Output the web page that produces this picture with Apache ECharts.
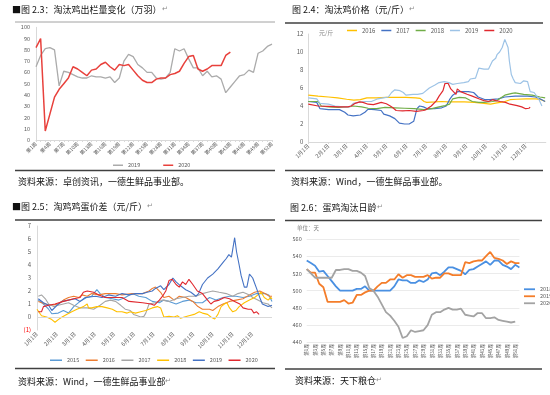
<!DOCTYPE html>
<html><head><meta charset="utf-8">
<script src="https://cdn.jsdelivr.net/npm/echarts@6/dist/echarts.min.js"></script>
<style>html,body{margin:0;padding:0;background:#fff}#c{width:550px;height:395px}</style>
</head><body><div id="c"></div>
<script>
// ---------- Panel 1: 淘汰鸡出栏量变化（万羽） ----------
const p1Weeks = Array.from({length: 52}, (_, i) => '第' + (i + 1) + '周');
const p1Out2019 = [65,75,81,82,80,48,61,60,58,56,55,55,57,56,56,55,56,51,55,70,76,74,67,64,60,60,55,54,55,60,81,79,81,72,64,64,57,61,56,57,54,42,47,52,57,58,62,60,77,79,83,85];
const p1Out2020 = [82,90,8,23,38,45,50,55,65,63,60,57,62,63,67,69,65,62,67,66,67,62,57,53,51,51,54,55,55,58,59,61,68,74,75,63,61,63,66,66,66,75,78];

// ---------- Panel 2: 淘汰鸡价格（元/斤） [day of year, price] ----------
const monthStarts = [0,31,59,90,120,151,181,212,243,273,304,334];
const monthLabels = ['1月1日','2月1日','3月1日','4月1日','5月1日','6月1日','7月1日','8月1日','9月1日','10月1日','11月1日','12月1日'];
const p2Price2016 = [[0,5.2],[15,5.1],[31,5.0],[45,4.9],[59,4.75],[70,4.65],[80,4.7],[90,4.9],[105,4.9],[120,4.95],[150,4.95],[165,4.9],[172,4.85],[178,4.5],[182,4.4],[195,4.45],[205,4.5],[215,4.45],[240,4.45],[255,4.4],[270,4.3],[280,4.2],[290,4.35],[300,4.45],[310,4.7],[320,4.75],[335,4.8],[350,4.8],[358,4.7],[364,4.5]];
const p2Price2017 = [[0,4.5],[13,4.4],[18,3.7],[31,3.6],[48,3.6],[56,3.3],[61,3.0],[69,2.9],[80,3.0],[87,3.3],[92,3.65],[102,3.6],[112,3.5],[116,3.1],[125,2.9],[133,2.6],[140,2.1],[148,2.0],[155,2.0],[162,2.3],[167,3.7],[171,4.0],[177,3.9],[183,3.7],[194,3.7],[205,3.8],[212,4.0],[217,4.7],[222,5.2],[230,5.6],[246,5.6],[254,5.5],[261,5.0],[272,4.7],[279,4.7],[292,4.8],[302,5.0],[318,5.1],[337,5.1],[349,5.0],[356,4.8],[364,4.5]];
const p2Price2018 = [[0,4.5],[15,4.5],[20,4.0],[31,3.9],[46,3.85],[61,3.9],[69,4.0],[82,3.9],[92,3.75],[105,3.7],[118,3.85],[133,3.8],[148,3.75],[163,3.7],[178,3.6],[190,3.7],[201,3.9],[210,4.05],[217,4.2],[222,4.8],[232,4.95],[242,4.9],[252,4.5],[262,4.4],[270,4.4],[283,4.5],[290,4.6],[302,5.2],[313,5.4],[318,5.45],[331,5.3],[344,5.2],[356,5.0],[364,4.9]];
const p2Price2019 = [[0,4.9],[13,4.8],[18,4.3],[31,4.2],[41,4.0],[54,3.9],[64,3.9],[69,4.3],[77,4.4],[87,4.5],[97,4.5],[107,4.8],[115,4.9],[123,5.0],[128,5.5],[133,5.8],[141,5.7],[146,5.5],[150,5.2],[161,5.3],[168,5.3],[176,5.4],[179,5.5],[186,6.0],[194,6.3],[201,6.6],[209,6.7],[216,6.6],[222,6.4],[229,6.5],[239,6.6],[246,6.7],[249,7.0],[257,7.1],[262,8.2],[270,8.1],[277,8.1],[280,8.3],[283,9.0],[288,9.3],[290,9.7],[294,10.0],[298,10.5],[302,11.4],[305,11.3],[307,10.5],[309,9.0],[312,7.5],[315,7.0],[318,6.6],[326,6.5],[331,6.8],[334,7.0],[337,6.7],[341,5.6],[347,5.5],[354,4.8],[359,4.0]];
const p2Price2020 = [[0,4.2],[15,4.0],[31,3.95],[46,3.9],[61,3.9],[66,4.0],[72,4.3],[79,4.45],[84,4.4],[92,4.2],[100,4.15],[107,4.3],[112,4.4],[120,4.25],[126,4.0],[130,3.8],[135,3.5],[145,3.45],[155,3.5],[166,3.4],[177,3.5],[181,3.6],[189,4.0],[197,4.6],[201,5.1],[207,5.7],[210,6.5],[212,6.7],[215,6.5],[219,5.9],[222,5.8],[227,5.3],[229,5.9],[234,5.6],[244,5.3],[252,5.1],[262,4.8],[270,4.6],[277,4.5],[283,4.7],[288,4.6],[295,4.5],[303,4.4],[310,4.2],[321,4.05],[328,3.9],[334,3.7],[339,3.75],[341,3.85]];

// ---------- Panel 3: 淘鸡鸡蛋价差（元/斤） [day of year, spread] ----------
const p3Spread2015 = [[2,1.3],[10,1.0],[18,0.6],[23,0.25],[33,0.3],[41,0.5],[49,0.3],[57,0.8],[67,1.2],[77,1.5],[85,1.6],[93,2.1],[98,1.8],[106,1.5],[117,1.4],[127,1.3],[137,1.5],[148,1.8],[158,1.6],[169,1.5],[179,1.2],[190,1.1],[197,1.3],[205,1.2],[216,1.0],[226,1.2],[236,1.3],[247,1.1],[257,1.1],[268,1.5],[278,1.3],[289,1.5],[299,1.6],[309,1.6],[320,1.5],[330,1.6],[341,1.8],[354,1.8],[360,1.7],[365,1.2]];
const p3Spread2016 = [[2,1.2],[13,1.0],[23,0.9],[33,1.0],[41,1.3],[49,1.5],[57,1.6],[65,1.5],[70,1.7],[78,1.6],[85,1.8],[96,1.7],[106,1.8],[122,1.8],[132,1.7],[148,1.8],[164,1.8],[174,2.0],[179,2.2],[184,2.3],[192,1.9],[197,1.5],[205,1.6],[213,1.3],[221,1.6],[231,1.5],[242,1.2],[250,0.8],[257,0.6],[268,0.6],[273,0.5],[281,0.8],[289,1.0],[299,1.2],[309,1.3],[320,1.4],[330,1.7],[338,1.9],[346,2.0],[354,1.8],[361,1.6],[365,1.6]];
const p3Spread2017 = [[2,1.6],[7,1.7],[13,1.4],[18,1.0],[26,0.8],[33,0.9],[41,1.0],[49,1.1],[57,0.9],[67,0.7],[78,0.7],[88,0.6],[98,0.9],[106,1.2],[114,1.3],[122,1.2],[130,0.9],[137,0.6],[145,0.5],[150,0.2],[156,0.1],[161,0.0],[166,0.05],[169,0.3],[174,1.0],[184,1.1],[195,1.3],[205,1.2],[216,1.4],[226,1.5],[236,1.6],[247,1.6],[257,1.8],[265,1.9],[273,2.0],[283,1.9],[294,1.8],[304,1.6],[312,1.8],[320,1.9],[330,1.7],[335,1.5],[343,1.3],[351,1.1],[359,1.0],[363,0.8],[365,0.7]];
const p3Spread2018 = [[0,0.6],[3,0.5],[7,0.1],[15,0.0],[18,0.0],[23,-0.2],[28,-0.4],[33,-0.2],[39,0.0],[46,0.2],[54,0.4],[62,0.6],[67,0.7],[72,0.8],[78,1.0],[80,0.7],[85,0.7],[93,0.8],[101,0.8],[109,0.7],[117,0.6],[124,0.4],[132,0.4],[140,0.3],[145,0.4],[153,0.3],[161,0.4],[169,0.5],[174,0.6],[179,0.7],[187,0.8],[192,0.7],[197,0.0],[205,0.05],[213,0.0],[218,0.1],[223,-0.1],[229,0.0],[236,0.1],[244,0.2],[252,0.4],[257,0.3],[265,0.2],[270,0.0],[276,-0.15],[281,0.2],[286,0.8],[291,1.0],[295,1.1],[299,0.7],[304,0.4],[309,0.5],[314,0.8],[322,1.1],[330,1.3],[338,1.5],[343,1.7],[348,1.9],[353,1.5],[359,1.3],[363,1.5],[365,1.4]];
const p3Spread2019 = [[2,1.4],[10,1.1],[18,0.9],[23,0.5],[31,0.9],[39,1.2],[49,1.3],[59,1.4],[67,1.2],[75,1.5],[91,1.6],[101,1.5],[111,1.7],[122,1.6],[132,1.8],[143,1.7],[153,1.8],[164,1.8],[171,1.9],[179,2.0],[184,2.2],[192,2.4],[197,2.1],[205,2.5],[211,3.0],[216,2.7],[223,2.4],[231,2.1],[239,1.9],[247,1.6],[251,1.8],[257,2.5],[265,3.0],[273,3.3],[281,3.7],[289,4.2],[294,4.5],[298,4.8],[302,4.6],[304,5.2],[307,6.1],[310,5.0],[314,4.0],[317,3.2],[322,2.3],[326,2.3],[330,3.3],[335,3.0],[341,2.2],[346,1.5],[350,1.0],[359,0.8],[365,0.9]];
const p3Spread2020 = [[2,0.4],[7,0.4],[10,0.8],[18,0.9],[28,1.0],[41,1.2],[57,1.4],[67,1.5],[72,1.9],[78,2.0],[88,1.9],[96,1.7],[106,1.5],[122,1.5],[132,1.5],[143,1.2],[164,1.1],[177,1.0],[182,0.9],[190,1.3],[195,1.6],[200,2.0],[205,2.8],[210,2.9],[216,2.5],[221,2.3],[226,2.7],[231,2.5],[236,2.9],[242,2.5],[249,2.0],[257,1.8],[265,1.3],[270,1.0],[275,1.2],[283,1.3],[291,1.5],[299,1.4],[307,1.2],[315,1.0],[320,0.7],[328,0.6],[333,0.6],[337,0.3],[341,0.4],[345,0.2]];

// ---------- Panel 4: 蛋鸡淘汰日龄（天） ----------
const p4Weeks = Array.from({length: 52}, (_, i) => '第' + (i + 1) + '周');
const p4Age2018 = [535,532,529,522,523,517,511,505,500,500,500,500,502,502,505,500,500,500,500,500,500,505,513,512,512,509,509,512,510,513,520,521,518,522,527,527,525,523,519,524,525,528,531,534,530,535,535,530,528,525,530,527];
const p4Age2019 = [525,521,521,508,504,487,487,487,487,489,485,486,495,495,498,500,500,505,509,509,513,513,519,515,518,518,516,516,516,518,514,515,515,520,520,518,518,518,533,532,534,535,535,540,545,538,537,535,531,534,532,532];
const p4Age2020 = [525,520,515,515,515,515,515,524,524,525,525,523,523,521,517,503,500,493,484,475,471,465,458,445,447,454,452,453,454,460,472,475,475,478,480,478,478,479,472,471,470,474,474,468,468,469,466,465,464,463,464];

const FONT = '"Noto Sans CJK SC", "Noto Sans", sans-serif';
const LBL = '#595959';
const AX = '#D9D9D9';

function line(name, data, idx, color, width) {
  return {
    name: name, type: 'line', data: data, xAxisIndex: idx, yAxisIndex: idx,
    showSymbol: false, symbol: 'none', animation: false,
    lineStyle: {color: color, width: width}, itemStyle: {color: color}
  };
}
const splitName = n => n.split('_')[1];

const series = [
  line('p1_2019', p1Out2019, 0, '#ABABAB', 1.3),
  line('p1_2020', p1Out2020, 0, '#E8413C', 1.5),
  line('p2_2016', p2Price2016, 1, '#FFC000', 1.2),
  line('p2_2017', p2Price2017, 1, '#4472C4', 1.2),
  line('p2_2018', p2Price2018, 1, '#70AD47', 1.2),
  line('p2_2019', p2Price2019, 1, '#9DC3E6', 1.2),
  line('p2_2020', p2Price2020, 1, '#E0282E', 1.2),
  line('p3_2015', p3Spread2015, 2, '#5B9BD5', 1.1),
  line('p3_2016', p3Spread2016, 2, '#ED7D31', 1.1),
  line('p3_2017', p3Spread2017, 2, '#A5A5A5', 1.1),
  line('p3_2018', p3Spread2018, 2, '#FFC000', 1.1),
  line('p3_2019', p3Spread2019, 2, '#4472C4', 1.1),
  line('p3_2020', p3Spread2020, 2, '#E0282E', 1.1),
  line('p4_2018年', p4Age2018, 3, '#4A90E2', 1.8),
  line('p4_2019年', p4Age2019, 3, '#F47D2A', 1.8),
  line('p4_2020年', p4Age2020, 3, '#A3A3A3', 1.8)
];
// zero line for panel 3
series[7].markLine = {silent: true, symbol: 'none', animation: false, label: {show: false},
  lineStyle: {color: AX, type: 'solid', width: 1}, data: [{yAxis: 0}]};

const monthAxisLabel = {
  customValues: monthStarts, rotate: 45, fontSize: 5.5, color: LBL, margin: 3,
  formatter: v => monthLabels[monthStarts.indexOf(v)] || ''
};

const option = {
  animation: false,
  textStyle: {fontFamily: FONT},
  grid: [
    {left: 36, top: 27.3, width: 236, height: 112.7, outerBoundsMode: 'none'},
    {left: 308.3, top: 34, width: 237.5, height: 108, outerBoundsMode: 'none'},
    {left: 37, top: 226, width: 235, height: 104, outerBoundsMode: 'none'},
    {left: 306.7, top: 239, width: 212.7, height: 103.3, outerBoundsMode: 'none'}
  ],
  xAxis: [
    {gridIndex: 0, type: 'category', data: p1Weeks, boundaryGap: false,
     axisLine: {lineStyle: {color: AX}}, axisTick: {show: true, interval: 0, length: 2, lineStyle: {color: AX}},
     axisLabel: {interval: 2, rotate: 45, fontSize: 5, color: LBL, margin: 3}, splitLine: {show: false}},
    {gridIndex: 1, type: 'value', min: 0, max: 365,
     axisLine: {lineStyle: {color: AX}}, axisTick: {show: true, customValues: monthStarts, length: 2, lineStyle: {color: AX}},
     axisLabel: monthAxisLabel, splitLine: {show: false}},
    {gridIndex: 2, type: 'value', min: 0, max: 365,
     axisLine: {show: false, onZero: false}, axisTick: {show: false},
     axisLabel: monthAxisLabel, splitLine: {show: false}},
    {gridIndex: 3, type: 'category', data: p4Weeks, boundaryGap: false,
     axisLine: {show: false}, axisTick: {show: false},
     axisLabel: {interval: 1, rotate: 90, fontSize: 4.5, color: LBL, margin: 2}, splitLine: {show: false}}
  ],
  yAxis: [
    {gridIndex: 0, type: 'value', min: 0, max: 100, interval: 10,
     axisLine: {show: true, lineStyle: {color: AX}}, axisTick: {show: false},
     axisLabel: {fontSize: 5.5, color: LBL, margin: 6}, splitLine: {show: false}},
    {gridIndex: 1, type: 'value', min: 0, max: 12, interval: 2,
     axisLine: {show: true, lineStyle: {color: AX}}, axisTick: {show: false},
     axisLabel: {fontSize: 6, color: LBL, margin: 5}, splitLine: {show: false}},
    {gridIndex: 2, type: 'value', min: -1, max: 7, interval: 1,
     axisLine: {show: true, lineStyle: {color: AX}}, axisTick: {show: false},
     axisLabel: {fontSize: 6, margin: 6, formatter: v => v < 0 ? '(' + (-v) + ')' : String(v),
                 color: v => (+v < 0 ? '#FF0000' : LBL)}, splitLine: {show: false}},
    {gridIndex: 3, type: 'value', min: 440, max: 560, interval: 20,
     axisLine: {show: false}, axisTick: {show: false},
     axisLabel: {fontSize: 5.5, color: LBL, margin: 5}, splitLine: {show: true, lineStyle: {color: '#E6E6E6', width: 0.8}}}
  ],
  legend: [
    {data: ['p1_2019', 'p1_2020'], formatter: splitName, left: 113, top: 162.5, icon: 'rect',
     itemWidth: 10, itemHeight: 1.5, itemGap: 23, padding: 0, textStyle: {fontSize: 5.5, color: LBL}},
    {data: ['p2_2016', 'p2_2017', 'p2_2018', 'p2_2019', 'p2_2020'], formatter: splitName, left: 347, top: 27.5, icon: 'rect',
     itemWidth: 10, itemHeight: 1.5, itemGap: 6, padding: 0, textStyle: {fontSize: 6, color: LBL}},
    {data: ['p3_2015', 'p3_2016', 'p3_2017', 'p3_2018', 'p3_2019', 'p3_2020'], formatter: splitName, left: 50, top: 357.5, icon: 'rect',
     itemWidth: 12, itemHeight: 1.5, itemGap: 6.5, padding: 0, textStyle: {fontSize: 5.5, color: LBL}},
    {data: ['p4_2018年', 'p4_2019年', 'p4_2020年'], formatter: splitName, left: 524, top: 286.5, orient: 'vertical', icon: 'rect',
     itemWidth: 11, itemHeight: 1.8, itemGap: 1.5, padding: 0, textStyle: {fontSize: 5.5, color: LBL}}
  ],
  series: series,
  graphic: [
    // rules
    {type: 'line', shape: {x1: 15, y1: 22, x2: 275, y2: 22}, style: {stroke: '#8C8C8C', lineWidth: 0.8}},
    {type: 'line', shape: {x1: 15, y1: 170.5, x2: 275, y2: 170.5}, style: {stroke: '#404040', lineWidth: 1.5}},
    {type: 'line', shape: {x1: 285, y1: 23, x2: 543, y2: 23}, style: {stroke: '#404040', lineWidth: 1.5}},
    {type: 'line', shape: {x1: 285, y1: 170.5, x2: 543, y2: 170.5}, style: {stroke: '#404040', lineWidth: 1.5}},
    {type: 'line', shape: {x1: 15, y1: 220, x2: 275, y2: 220}, style: {stroke: '#404040', lineWidth: 1.5}},
    {type: 'line', shape: {x1: 15, y1: 368.5, x2: 275, y2: 368.5}, style: {stroke: '#404040', lineWidth: 1.5}},
    {type: 'line', shape: {x1: 285, y1: 220.5, x2: 542, y2: 220.5}, style: {stroke: '#404040', lineWidth: 1.5}},
    {type: 'line', shape: {x1: 285, y1: 369, x2: 542, y2: 369}, style: {stroke: '#404040', lineWidth: 1.5}},
    // titles
    {type: 'text', left: 12, top: 5, style: {text: '{a|■图 2.3：淘汰鸡出栏量变化（万羽）}{b|↵}', rich: {a: {fontSize: 9, fill: '#111', fontFamily: FONT}, b: {fontSize: 7, fill: '#888'}}}},
    {type: 'text', left: 292, top: 5, style: {text: '{a|图 2.4：淘汰鸡价格（元/斤）}{b|↵}', rich: {a: {fontSize: 9, fill: '#111', fontFamily: FONT}, b: {fontSize: 7, fill: '#888'}}}},
    {type: 'text', left: 12, top: 202, style: {text: '{a|■图 2.5：淘鸡鸡蛋价差（元/斤）}{b|↵}', rich: {a: {fontSize: 9, fill: '#111', fontFamily: FONT}, b: {fontSize: 7, fill: '#888'}}}},
    {type: 'text', left: 290, top: 203, style: {text: '{a|图 2.6：蛋鸡淘汰日龄}{b|↵}', rich: {a: {fontSize: 9, fill: '#111', fontFamily: FONT}, b: {fontSize: 7, fill: '#888'}}}},
    // sources
    {type: 'text', left: 18, top: 177.5, style: {text: '资料来源：卓创资讯，一德生鲜品事业部。', fontSize: 9, fill: '#111', fontFamily: FONT}},
    {type: 'text', left: 291, top: 177.5, style: {text: '资料来源：Wind，一德生鲜品事业部。', fontSize: 9, fill: '#111', fontFamily: FONT}},
    {type: 'text', left: 18, top: 377, style: {text: '{a|资料来源：Wind，一德生鲜品事业部}{b|↵}', rich: {a: {fontSize: 9, fill: '#111', fontFamily: FONT}, b: {fontSize: 7, fill: '#888'}}}},
    {type: 'text', left: 295, top: 376, style: {text: '{a|资料来源：天下粮仓}{b|↵}', rich: {a: {fontSize: 9, fill: '#111', fontFamily: FONT}, b: {fontSize: 7, fill: '#888'}}}},
    // unit labels
    {type: 'text', left: 319, top: 30, style: {text: '元/斤', fontSize: 6, fill: '#7F7F7F', fontFamily: FONT}},
    {type: 'text', left: 297, top: 225.5, style: {text: '单位：天', fontSize: 5.5, fill: '#7F7F7F', fontFamily: FONT}}
  ]
};
echarts.init(document.getElementById('c'), null, {renderer: 'canvas'}).setOption(option);
</script>
</body></html>
